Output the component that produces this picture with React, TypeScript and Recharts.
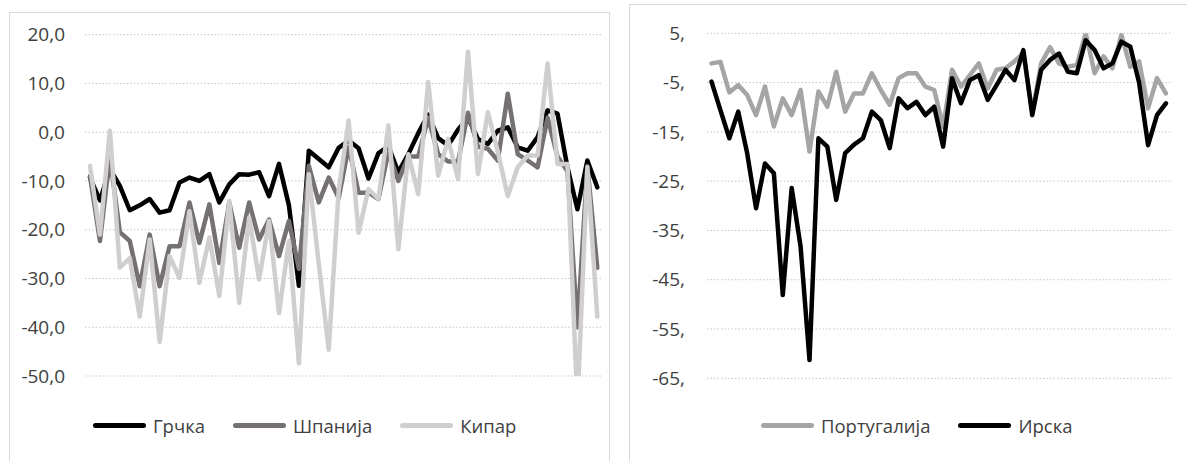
import React from 'react';
import { LineChart, Line, XAxis, YAxis, CartesianGrid } from 'recharts';

const periods: string[] = Array.from({ length: 52 }, (_, i) => String(i + 1));

const greece = [-9.3, -14, -7.5, -11, -16, -15, -13.7, -16.5, -16, -10.3, -9.3, -10, -8.6, -14.4, -10.7, -8.6, -8.7, -8.2, -13.1, -6.5, -15, -31.5, -3.8, -5.5, -7.2, -3.2, -1.7, -3.3, -9.5, -4.3, -2.9, -8.2, -4.5, -0.2, 3.6, -1.2, -2.7, 0.5, 3, -1.4, -2.4, 0.3, 1, -3.1, -3.8, -1, 4.5, 3.8, -7.2, -15.8, -5.8, -11.3];
const spain = [-9, -22.3, -5, -20.5, -22.3, -31.6, -21, -31.6, -23.4, -23.4, -14.4, -22.7, -14.8, -26.8, -14.4, -23.7, -14.4, -22, -17.9, -25.4, -18.2, -28, -6.9, -14.4, -9.3, -13.5, -3, -12.4, -12.4, -13.7, -4, -10, -5, -5, 3, -4.5, -6, -6, 4, -3, -3.4, -5.8, 7.9, -4.5, -5.8, -7.2, 3, -5, -8, -40, -7, -27.8];
const cyprus = [-6.9, -21, 0.3, -27.8, -25.8, -37.8, -22, -43, -25.4, -29.9, -16.2, -30.9, -21.6, -33.6, -14.1, -35, -17.5, -30.2, -18.2, -37.1, -22.3, -47.4, -8.6, -27, -44.6, -12, 2.4, -20.6, -11.7, -13.7, 1.4, -24, -4.5, -12.7, 10.3, -8.9, -1.4, -9.6, 16.5, -8.6, 4.1, -4, -13.1, -7.2, -4.8, -4.8, 14.1, -6.5, -6.5, -56, -7.2, -37.8];

const portugal = [-1.1, -0.8, -7, -5.5, -7.5, -11.6, -5.8, -13.9, -8.2, -11.6, -6.5, -19, -6.8, -9.9, -2.8, -10.9, -7.2, -7.2, -3.1, -6.5, -9.5, -4.1, -3.1, -3.1, -5.8, -6.5, -14, -2.4, -5.8, -3.5, -1.1, -6.2, -2.4, -2.1, -0.7, 1, -11, -1.1, 2.2, -1.1, -1.8, -1.4, 5, -3.1, 0.3, -2.1, 4.7, -1.8, -0.7, -10.2, -4.1, -7.2];
const ireland = [-4.8, -10.6, -16.3, -10.9, -19.3, -30.5, -21.4, -23.4, -48.1, -26.4, -38.3, -61.3, -16.3, -18, -28.8, -19.3, -17.6, -16.3, -10.9, -12.6, -18.3, -8.2, -10.2, -8.9, -11.6, -9.9, -18, -4.1, -9.2, -4.5, -3.5, -8.5, -5.5, -2.4, -4.5, 1.6, -11.6, -2.4, -0.4, 0.9, -2.8, -3.1, 3.6, 1.6, -2.1, -1.1, 3.3, 2.3, -5.1, -17.7, -11.6, -9.2];

const leftTicks = [20, 10, 0, -10, -20, -30, -40, -50];
const rightTicks = [5, -5, -15, -25, -35, -45, -55, -65];

const leftSeries = [
  { key: 'greece', name: 'Грчка', color: '#000000' },
  { key: 'spain', name: 'Шпанија', color: '#767171' },
  { key: 'cyprus', name: 'Кипар', color: '#d0cece' },
];
const rightSeries = [
  { key: 'portugal', name: 'Португалија', color: '#a5a5a5' },
  { key: 'ireland', name: 'Ирска', color: '#000000' },
];

const leftData = periods.map((p, i) => ({ period: p, greece: greece[i], spain: spain[i], cyprus: cyprus[i] }));
const rightData = periods.map((p, i) => ({ period: p, portugal: portugal[i], ireland: ireland[i] }));

const FONT = "'Open Sans', sans-serif";
const TEXT = '#404040';
const GRID = '#c6c6c6';

const LegendRow = ({ items, left, top }: { items: { name: string; color: string }[]; left: number; top: number }) => (
  <div style={{ position: 'absolute', left, top, display: 'flex', alignItems: 'center', gap: 28, fontFamily: FONT, fontSize: 18.5, color: TEXT, whiteSpace: 'nowrap' }}>
    {items.map((s) => (
      <div key={s.name} style={{ display: 'flex', alignItems: 'center' }}>
        <div style={{ width: 53, height: 5, borderRadius: 3, background: s.color, marginRight: 7 }} />
        <span>{s.name}</span>
      </div>
    ))}
  </div>
);

export default function App() {
  const tickStyle = { fill: TEXT, fontSize: 19, fontFamily: FONT };
  return (
    <div style={{ position: 'relative', width: 1187, height: 461, overflow: 'hidden', background: '#fff' }}>
      <style>{'body{margin:0}'}</style>
      <div style={{ position: 'absolute', left: 9, top: 12, width: 601, height: 470, border: '1px solid #d9d9d9', boxSizing: 'border-box' }} />
      <div style={{ position: 'absolute', left: 629, top: 4, width: 600, height: 480, border: '1px solid #d9d9d9', boxSizing: 'border-box' }} />

      <div style={{ position: 'absolute', left: 0, top: 0 }}>
        <LineChart width={620} height={461} data={leftData} margin={{ top: 34.7, right: 17.7, bottom: 85, left: 10 }}>
          <CartesianGrid vertical={false} stroke={GRID} strokeDasharray="1.5 2" />
          <XAxis dataKey="period" hide padding={{ left: 5, right: 5 }} />
          <YAxis width={75} domain={[-50, 20]} ticks={leftTicks} allowDataOverflow axisLine={false} tickLine={false} tickMargin={14} tick={tickStyle} tickFormatter={(v: number) => v.toFixed(1).replace('.', ',')} interval={0} />
          {leftSeries.map((s) => (
            <Line key={s.key} dataKey={s.key} name={s.name} stroke={s.color} strokeWidth={4.5} dot={false} activeDot={false} isAnimationActive={false} strokeLinecap="round" strokeLinejoin="round" />
          ))}
        </LineChart>
      </div>

      <div style={{ position: 'absolute', left: 0, top: 0 }}>
        <LineChart width={1187} height={461} data={rightData} margin={{ top: 33.3, right: 16.6, bottom: 82.7, left: 632 }}>
          <CartesianGrid vertical={false} stroke={GRID} strokeDasharray="1.5 2" />
          <XAxis dataKey="period" hide padding={{ left: 4.5, right: 4.5 }} />
          <YAxis width={75} domain={[-65, 5]} ticks={rightTicks} allowDataOverflow axisLine={false} tickLine={false} tickMargin={16} tick={tickStyle} tickFormatter={(v: number) => `${v},`} interval={0} />
          {rightSeries.map((s) => (
            <Line key={s.key} dataKey={s.key} name={s.name} stroke={s.color} strokeWidth={4.5} dot={false} activeDot={false} isAnimationActive={false} strokeLinecap="round" strokeLinejoin="round" />
          ))}
        </LineChart>
      </div>

      <LegendRow items={leftSeries} left={93} top={413} />
      <LegendRow items={rightSeries} left={761} top={413} />
    </div>
  );
}
